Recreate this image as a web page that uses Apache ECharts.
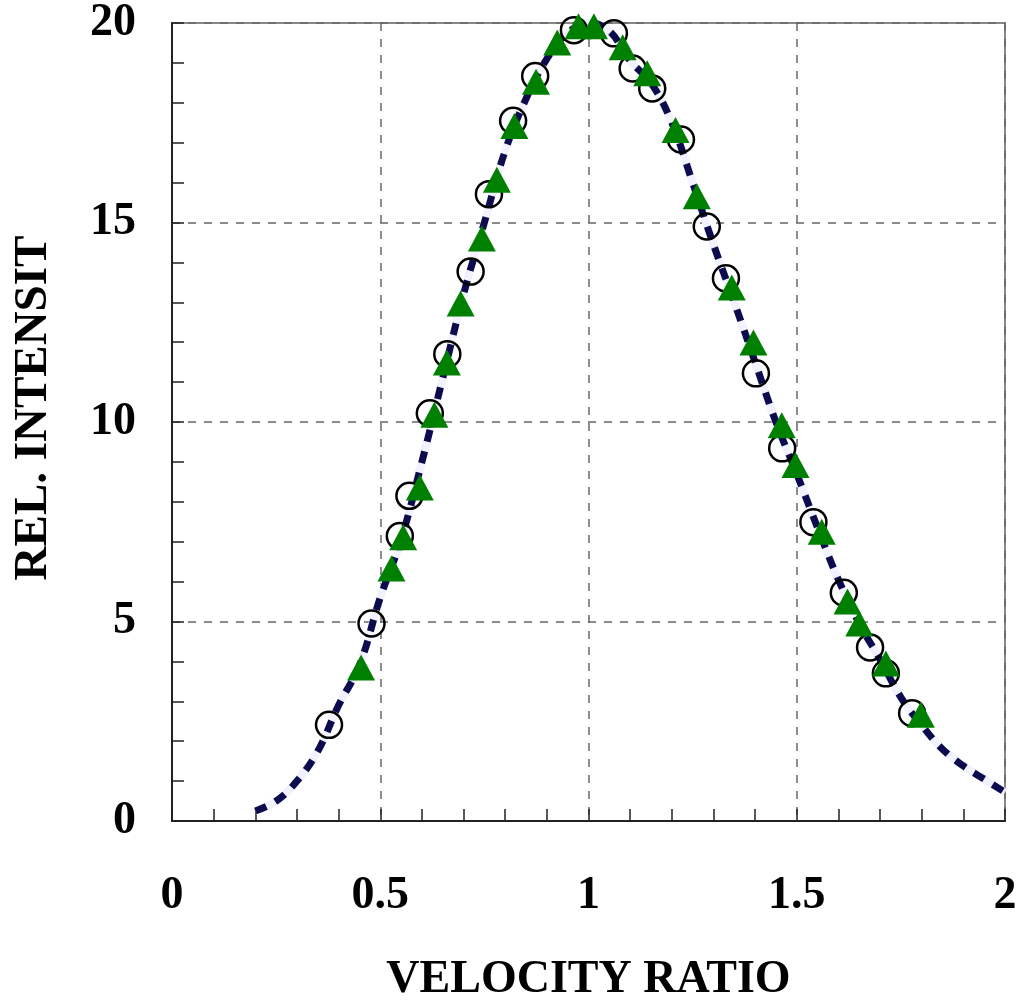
<!DOCTYPE html>
<html>
<head>
<meta charset="utf-8">
<script src="https://cdn.jsdelivr.net/npm/echarts@6/dist/echarts.min.js"></script>
<style>
html,body{margin:0;padding:0;background:#fff;}
#chart{width:1018px;height:1000px;}
</style>
</head>
<body>
<div id="chart"></div>
<script>
// Fitted curve (velocity ratio, relative intensity)
var curveX = [0.2,0.25,0.3,0.35,0.4,0.45,0.5,0.55,0.6,0.65,0.7,0.75,0.8,0.85,0.9,0.95,1.0,1.05,1.1,1.15,1.2,1.25,1.3,1.35,1.4,1.45,1.5,1.55,1.6,1.65,1.7,1.75,1.8,1.85,1.9,1.95,2.0];
var curveY = [0.25,0.5,1.0,1.75,2.9,3.9,5.6,7.05,9.0,11.1,13.2,15.0,16.8,18.1,19.1,19.75,20.0,19.8,19.05,18.5,17.5,16.0,14.45,13.0,11.5,10.0,8.7,7.35,6.05,4.95,4.05,3.1,2.4,1.8,1.38,1.05,0.72];

// Open circles
var circX = [0.377,0.479,0.547,0.570,0.619,0.661,0.717,0.761,0.819,0.872,0.965,1.002,1.061,1.106,1.153,1.222,1.284,1.330,1.402,1.465,1.540,1.613,1.676,1.714,1.777];
var circY = [2.41,4.95,7.14,8.15,10.22,11.70,13.77,15.71,17.55,18.67,19.82,20.05,19.74,18.86,18.36,17.08,14.90,13.60,11.22,9.34,7.49,5.72,4.35,3.70,2.70];

// Green triangles
var triX = [0.454,0.527,0.555,0.595,0.630,0.660,0.693,0.744,0.780,0.822,0.874,0.925,0.976,1.013,1.082,1.141,1.209,1.260,1.344,1.396,1.464,1.497,1.560,1.622,1.650,1.714,1.798];
var triY = [3.85,6.33,7.11,8.36,10.18,11.49,12.97,14.60,16.07,17.42,18.53,19.51,19.92,19.92,19.39,18.74,17.32,15.66,13.37,11.99,9.92,8.92,7.25,5.50,4.95,3.95,2.66];

var xTitle = 'VELOCITY RATIO';
var yTitle = 'REL. INTENSIT';

function pairs(xs, ys){ return xs.map(function(x,i){ return [x, ys[i]]; }); }

var FONT = "'Liberation Serif','Times New Roman',serif";
var chart = echarts.init(document.getElementById('chart'), null, {renderer:'canvas'});
chart.setOption({
  animation:false,
  backgroundColor:'#ffffff',
  grid:{left:172,right:13,top:23,bottom:179,containLabel:false,outerBoundsMode:'none',
        show:true,borderColor:'#888888',borderWidth:2,backgroundColor:'transparent'},
  xAxis:{
    type:'value',min:0,max:2,interval:0.5,
    name:xTitle,nameLocation:'middle',nameGap:136,
    nameTextStyle:{fontFamily:FONT,fontWeight:'bold',fontSize:46,color:'#000'},
    axisLine:{show:true,onZero:false,lineStyle:{color:'#222',width:2}},
    axisTick:{show:true,inside:true,length:12,lineStyle:{color:'#222',width:1.5}},
    minorTick:{show:true,splitNumber:5,length:12,lineStyle:{color:'#222',width:1.5}},
    axisLabel:{margin:52,fontFamily:FONT,fontWeight:'bold',fontSize:46,color:'#000',
      formatter:function(v){return String(Math.round(v*10)/10);}},
    splitLine:{show:true,lineStyle:{color:'#666666',width:1.5,type:[8,8]}}
  },
  yAxis:{
    type:'value',min:0,max:20,interval:5,
    axisLine:{show:true,onZero:false,lineStyle:{color:'#222',width:2}},
    axisTick:{show:true,inside:true,length:12,lineStyle:{color:'#222',width:1.5}},
    minorTick:{show:true,splitNumber:5,length:12,lineStyle:{color:'#222',width:1.5}},
    axisLabel:{margin:36,fontFamily:FONT,fontWeight:'bold',fontSize:46,color:'#000'},
    splitLine:{show:true,lineStyle:{color:'#666666',width:1.5,type:[8,8]}}
  },
  graphic:[{
    type:'text',
    x:34,y:408,rotation:Math.PI/2,
    style:{text:yTitle,font:"bold 47px 'Liberation Serif','Times New Roman',serif",fill:'#000',align:'center',verticalAlign:'middle'}
  }],
  series:[
    {type:'line',data:pairs(curveX,curveY),smooth:0.4,symbol:'none',z:2,
     lineStyle:{color:'#f2f2ff',width:8,type:'solid',cap:'butt'}},
    {type:'line',data:pairs(curveX,curveY),smooth:0.4,symbol:'none',z:3,
     lineStyle:{color:'#0b0b4e',width:7,type:[12,10],cap:'butt'}},
    {type:'scatter',data:pairs(circX,circY),symbol:'circle',symbolSize:26,z:4,
     itemStyle:{color:'rgba(255,255,255,0)',borderColor:'#000',borderWidth:2.5,opacity:1}},
    {type:'scatter',data:pairs(triX,triY),symbol:'triangle',symbolSize:[28,26],z:5,
     itemStyle:{color:'#008000',borderWidth:0,opacity:1}}
  ]
});
</script>
</body>
</html>
